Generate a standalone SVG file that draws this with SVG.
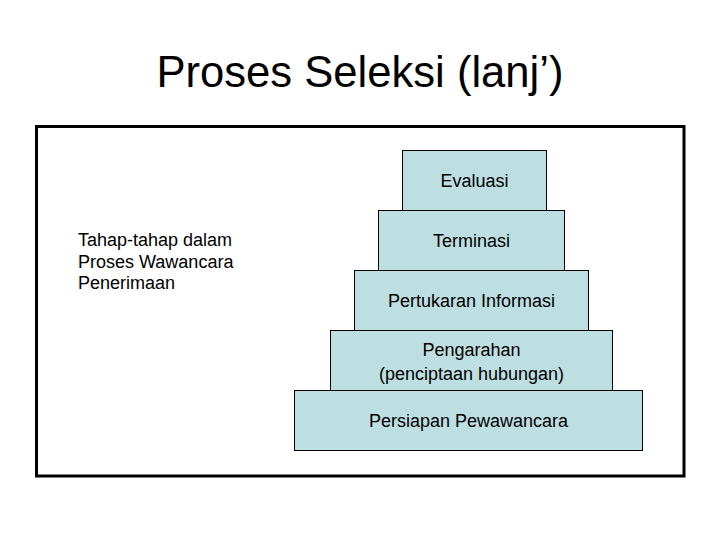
<svg xmlns="http://www.w3.org/2000/svg" width="720" height="540" viewBox="0 0 720 540">
<style>
.t{font-family:"Liberation Sans",Arial,sans-serif;fill:#000}
.b{fill:#BEDFE2;stroke:#000;stroke-width:1}
.s{font-size:18px;text-anchor:middle}
</style>
<rect width="720" height="540" fill="#fff"/>
<text class="t" x="360" y="87" font-size="43.6" text-anchor="middle">Proses Seleksi (lanj’)</text>
<rect x="36.5" y="126.5" width="647.5" height="349.5" fill="none" stroke="#000" stroke-width="3"/>
<g id="label">
<text class="t" x="78" y="246" font-size="18">Tahap-tahap dalam</text>
<text class="t" x="78" y="267.5" font-size="18">Proses Wawancara</text>
<text class="t" x="78" y="289" font-size="18">Penerimaan</text>
</g>
<g id="persiapan"><rect class="b" x="294.5" y="390.5" width="348" height="60"/><text class="t s" x="468.5" y="426.5">Persiapan Pewawancara</text></g>
<g id="pengarahan"><rect class="b" x="330.5" y="330.5" width="282" height="60"/><text class="t s" x="471.5" y="355.5">Pengarahan</text><text class="t s" x="471.5" y="379.5">(penciptaan hubungan)</text></g>
<g id="pertukaran"><rect class="b" x="354.5" y="270.5" width="234" height="60"/><text class="t s" x="471.5" y="306.5">Pertukaran Informasi</text></g>
<g id="terminasi"><rect class="b" x="378.5" y="210.5" width="186" height="60"/><text class="t s" x="471.5" y="246.5">Terminasi</text></g>
<g id="evaluasi"><rect class="b" x="402.5" y="150.5" width="144" height="60"/><text class="t s" x="474.5" y="186.5">Evaluasi</text></g>
<g id="connectors"/>
</svg>
